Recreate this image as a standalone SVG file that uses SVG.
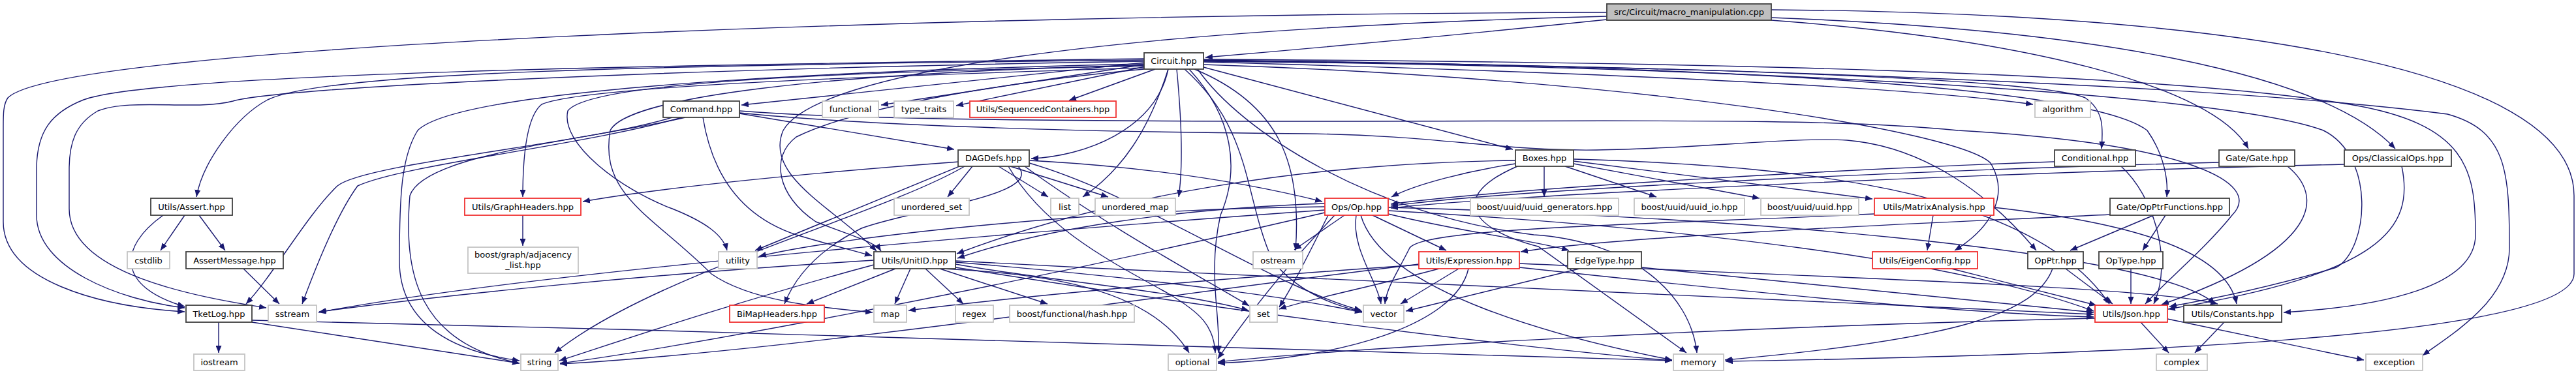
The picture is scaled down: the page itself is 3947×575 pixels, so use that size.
<svg xmlns="http://www.w3.org/2000/svg" width="3947" height="575" viewBox="0 0 3947 575">
<style>
.n rect{fill:#fff;stroke:#404040;stroke-width:1.8}
.n.r rect{stroke:#f03030}
.n.g rect{stroke:#c4c4c4}
.n.m rect{fill:#bfbfbf}
.n text{font-family:"DejaVu Sans","Liberation Sans",sans-serif;font-size:13px;text-anchor:middle;fill:#000}
#edges path{fill:none;stroke:#191970;stroke-width:1.4;marker-end:url(#a)}
</style>
<defs>
<marker id="a" markerUnits="userSpaceOnUse" markerWidth="12" markerHeight="9" refX="11" refY="4.5" orient="auto"><path d="M0,0 L11,4.5 L0,9 z" fill="#191970"/></marker>
</defs>
<g id="edges">
<path d="M2462,30 C2250,52 2000,75 1847,88"/>
<path d="M2462,19 C1400,22 90,70 12,150 C5,160 5,175 5,195 L5,340 C5,430 150,470 283,478"/>
<path d="M2462,25 C1700,45 1250,110 1200,200 C1170,270 1280,320 1343,385"/>
<path d="M2714,15 C3400,20 3944,100 3944,300 L3944,420 C3944,520 3200,545 2644,554"/>
<path d="M2714,27 C3200,45 3560,110 3670,228"/>
<path d="M2714,31 C3100,60 3390,130 3445,228"/>
<path d="M1753,96 L1136,161"/>
<path d="M1753,99 L1350,161"/>
<path d="M1755,102 L1465,162"/>
<path d="M1770,106 L1638,154"/>
<path d="M1790,106 C1770,200 1660,240 1580,243"/>
<path d="M1844,103 L2318,229"/>
<path d="M1844,95 C2400,110 2900,130 3115,160"/>
<path d="M1844,93 C2500,100 3120,118 3195,150 C3225,170 3222,200 3220,228"/>
<path d="M1753,92 C1000,100 500,110 410,153 C360,180 310,250 301,302"/>
<path d="M1753,90 C1200,98 250,108 128,153 C80,172 56,200 56,260 L56,330 C56,410 180,460 283,472"/>
<path d="M1753,94 C1000,106 420,135 357,155 C300,170 200,150 150,170 C115,190 106,220 106,260 L106,320 C106,420 300,455 408,472"/>
<path d="M1753,104 C1400,115 900,130 830,160 C805,180 801,250 801,302"/>
<path d="M1753,101 C1200,112 900,130 870,170 C858,220 950,290 1030,320 C1080,340 1108,360 1114,384"/>
<path d="M1753,100 C1250,112 960,150 935,200 C918,300 1000,330 1090,420 C1150,462 1260,472 1337,479"/>
<path d="M1753,98 C1200,110 700,140 640,200 C615,240 612,300 612,400 C612,500 700,540 796,553"/>
<path d="M1790,106 C1760,200 1720,260 1659,302"/>
<path d="M1803,106 C1812,200 1812,260 1806,302"/>
<path d="M1830,106 C1960,160 1995,250 1985,384"/>
<path d="M1822,106 C1890,180 1900,260 1870,330 C1850,420 1870,480 1867,541"/>
<path d="M1815,106 C1920,200 1905,300 1950,400 C1990,450 2050,470 2087,478"/>
<path d="M1844,92 C2600,100 3200,130 3290,200 C3318,240 3322,280 3320,302"/>
<path d="M1844,91 C2600,95 3300,110 3600,160 C3780,190 3793,260 3793,360 C3793,440 3650,470 3499,479"/>
<path d="M1844,93 C2600,100 3400,130 3750,175 C3840,200 3845,260 3845,380 C3845,460 3760,510 3712,545"/>
<path d="M1844,94 C2600,100 3400,140 3560,200 C3640,240 3630,380 3580,410 C3480,440 3380,460 3324,470"/>
<path d="M1844,99 C2500,120 3000,200 3050,250 C3080,300 3050,350 2995,384"/>
<path d="M1835,106 C1900,200 2100,330 2350,360 C2500,370 2590,450 2600,541"/>
<path d="M1753,106 C1500,130 1300,170 1220,210 C1180,240 1190,300 1250,340 C1300,360 1340,370 1350,385"/>
<path d="M1133,174 L1462,229"/>
<path d="M1030,180 C900,220 560,250 517,285 C470,330 420,420 377,466"/>
<path d="M1045,180 C900,222 620,252 548,285 C515,330 480,420 463,466"/>
<path d="M1050,180 C900,215 650,235 628,300 C618,420 640,525 796,557"/>
<path d="M1077,180 C1090,260 1130,330 1220,360 C1270,375 1310,385 1336,392"/>
<path d="M1133,170 C1250,180 1500,186 2000,186 C2500,186 2800,180 3000,200 C3350,220 3470,280 3420,330 C3380,380 3320,430 3287,466"/>
<path d="M1133,173 C1300,190 1600,202 2000,205 C2200,207 2300,232 2446,230 C2600,228 2750,210 2830,215 C2950,225 3050,300 3120,384"/>
<path d="M1470,248 C1200,268 1000,290 893,309"/>
<path d="M1490,255 L1452,302"/>
<path d="M1530,255 L1606,302"/>
<path d="M1548,255 L1698,302"/>
<path d="M1475,253 L1157,384"/>
<path d="M1478,255 C1350,330 1000,420 850,541"/>
<path d="M1577,246 C1800,258 1950,290 2026,309"/>
<path d="M1560,255 C1600,300 1400,320 1320,350 C1260,380 1220,420 1202,466"/>
<path d="M1577,250 C1750,300 1950,440 2086,476"/>
<path d="M1570,255 C1700,350 1850,430 1914,469"/>
<path d="M1545,255 C1600,350 1700,400 1790,450 C1840,480 1860,500 1862,541"/>
<path d="M2366,255 L2366,302"/>
<path d="M2398,255 L2538,302"/>
<path d="M2411,251 L2696,304"/>
<path d="M2411,247 L2869,305"/>
<path d="M2322,251 C2250,262 2170,282 2132,302"/>
<path d="M2322,246 C2000,250 1700,300 1466,389"/>
<path d="M2411,244 C2800,255 3120,300 3232,466"/>
<path d="M2325,255 C2220,300 2250,350 2357,378 L2584,541"/>
<path d="M2060,330 L1983,383"/>
<path d="M2078,330 C2070,380 2110,430 2116,466"/>
<path d="M2103,330 L2216,384"/>
<path d="M2127,328 C2250,358 2350,368 2404,384"/>
<path d="M2127,323 C2600,350 3000,400 3208,477"/>
<path d="M2127,318 C2600,330 3300,380 3394,466"/>
<path d="M2030,317 C1700,320 1300,360 1163,393"/>
<path d="M2030,312 C1800,320 1600,350 1467,396"/>
<path d="M2030,322 C1500,360 800,420 488,479"/>
<path d="M2030,326 C1500,450 1000,540 858,557"/>
<path d="M2045,330 C1960,420 1900,500 1866,550"/>
<path d="M2085,330 C2120,450 2400,520 2562,552"/>
<path d="M2035,330 C2000,400 1980,440 1960,471"/>
<path d="M1372,412 L1236,466"/>
<path d="M1395,412 L1371,466"/>
<path d="M1418,412 L1476,466"/>
<path d="M1440,412 L1605,466"/>
<path d="M1464,405 C1600,430 1800,445 1913,476"/>
<path d="M1445,412 C1600,420 1760,440 1822,541"/>
<path d="M1339,406 C1100,470 900,540 857,553"/>
<path d="M1339,399 C1000,420 700,450 489,478"/>
<path d="M1464,400 C2200,440 3000,470 3208,482"/>
<path d="M1464,410 C1900,480 2300,530 2562,553"/>
<path d="M1464,402 C1800,430 2000,460 2087,479"/>
<path d="M2235,412 L2146,466"/>
<path d="M2250,412 C2230,500 2050,550 1866,557"/>
<path d="M2174,405 C1800,450 1200,540 858,558"/>
<path d="M2174,406 C1900,425 1600,450 1392,476"/>
<path d="M2328,410 C2700,450 3000,480 3208,486"/>
<path d="M2205,412 C2100,440 2000,460 1960,474"/>
<path d="M2328,404 C2800,425 3300,440 3398,466"/>
<path d="M2420,412 L2154,477"/>
<path d="M2515,410 C2900,450 3100,470 3208,479"/>
<path d="M2962,330 L2953,384"/>
<path d="M3055,318 C3250,340 3410,380 3427,466"/>
<path d="M2872,328 C2500,345 2180,350 2160,380 C2140,420 2125,440 2122,466"/>
<path d="M2990,412 L3212,468"/>
<path d="M3300,330 L3172,384"/>
<path d="M3318,330 L3283,384"/>
<path d="M3233,329 C3000,340 2500,360 2330,386"/>
<path d="M3165,412 L3237,466"/>
<path d="M3145,412 C3120,480 3000,520 2643,552"/>
<path d="M3265,412 L3265,466"/>
<path d="M3148,248 C2800,260 2300,290 2131,313"/>
<path d="M3250,255 C3300,300 3330,400 3300,466"/>
<path d="M3400,249 C2900,262 2300,292 2131,316"/>
<path d="M3505,255 C3560,300 3560,380 3312,467"/>
<path d="M3592,252 C3000,266 2300,300 2131,319"/>
<path d="M3680,255 C3700,350 3650,420 3322,474"/>
<path d="M3280,494 L3323,541"/>
<path d="M3321,489 L3622,552"/>
<path d="M3210,488 C2700,500 2100,530 1866,555"/>
<path d="M3408,494 L3363,541"/>
<path d="M283,330 L246,384"/>
<path d="M305,330 L345,384"/>
<path d="M250,330 C180,380 180,440 283,470"/>
<path d="M373,412 L428,466"/>
<path d="M801,330 L801,377"/>
<path d="M335,494 L335,541"/>
<path d="M386,494 L796,557"/>
<path d="M386,491 C1200,510 2200,540 2562,553"/>
</g>
<g id="main" class="n m"><rect x="2462" y="6" width="252" height="25"/><text x="2588" y="23">src/Circuit/macro_manipulation.cpp</text></g>
<g id="circuit" class="n"><rect x="1753" y="81" width="91" height="25"/><text x="1798.5" y="98">Circuit.hpp</text></g>
<g id="command" class="n"><rect x="1016" y="155" width="117" height="25"/><text x="1074.5" y="172">Command.hpp</text></g>
<g id="functional" class="n g"><rect x="1260" y="155" width="86" height="25"/><text x="1303" y="172">functional</text></g>
<g id="type_traits" class="n g"><rect x="1370" y="155" width="91" height="25"/><text x="1415.5" y="172">type_traits</text></g>
<g id="seqcont" class="n r"><rect x="1486" y="155" width="224" height="25"/><text x="1598" y="172">Utils/SequencedContainers.hpp</text></g>
<g id="algorithm" class="n g"><rect x="3118" y="155" width="85" height="25"/><text x="3160.5" y="172">algorithm</text></g>
<g id="dagdefs" class="n"><rect x="1468" y="230" width="109" height="25"/><text x="1522.5" y="247">DAGDefs.hpp</text></g>
<g id="boxes" class="n"><rect x="2322" y="230" width="89" height="25"/><text x="2366.5" y="247">Boxes.hpp</text></g>
<g id="conditional" class="n"><rect x="3148" y="230" width="124" height="25"/><text x="3210" y="247">Conditional.hpp</text></g>
<g id="gate" class="n"><rect x="3400" y="230" width="116" height="25"/><text x="3458" y="247">Gate/Gate.hpp</text></g>
<g id="classicalops" class="n"><rect x="3592" y="230" width="164" height="25"/><text x="3674" y="247">Ops/ClassicalOps.hpp</text></g>
<g id="assert" class="n"><rect x="231" y="304" width="125" height="26"/><text x="293.5" y="321.5">Utils/Assert.hpp</text></g>
<g id="graphheaders" class="n r"><rect x="712" y="304" width="178" height="26"/><text x="801" y="321.5">Utils/GraphHeaders.hpp</text></g>
<g id="unordered_set" class="n g"><rect x="1370" y="304" width="115" height="26"/><text x="1427.5" y="321.5">unordered_set</text></g>
<g id="list" class="n g"><rect x="1610" y="304" width="43" height="26"/><text x="1631.5" y="321.5">list</text></g>
<g id="unordered_map" class="n g"><rect x="1678" y="304" width="123" height="26"/><text x="1739.5" y="321.5">unordered_map</text></g>
<g id="op" class="n r"><rect x="2030" y="304" width="97" height="26"/><text x="2078.5" y="321.5">Ops/Op.hpp</text></g>
<g id="uuid_generators" class="n g"><rect x="2253" y="304" width="227" height="26"/><text x="2366.5" y="321.5">boost/uuid/uuid_generators.hpp</text></g>
<g id="uuid_io" class="n g"><rect x="2504" y="304" width="169" height="26"/><text x="2588.5" y="321.5">boost/uuid/uuid_io.hpp</text></g>
<g id="uuid" class="n g"><rect x="2698" y="304" width="150" height="26"/><text x="2773" y="321.5">boost/uuid/uuid.hpp</text></g>
<g id="matrixanalysis" class="n r"><rect x="2872" y="304" width="183" height="26"/><text x="2963.5" y="321.5">Utils/MatrixAnalysis.hpp</text></g>
<g id="opptrfunctions" class="n"><rect x="3233" y="304" width="183" height="26"/><text x="3324.5" y="321.5">Gate/OpPtrFunctions.hpp</text></g>
<g id="cstdlib" class="n g"><rect x="195" y="386" width="65" height="26"/><text x="227.5" y="403.5">cstdlib</text></g>
<g id="assertmessage" class="n"><rect x="285" y="386" width="149" height="26"/><text x="359.5" y="403.5">AssertMessage.hpp</text></g>
<g id="adjacency_list" class="n g"><rect x="717" y="379" width="169" height="40"/><text x="801.5" y="395">boost/graph/adjacency</text><text x="801.5" y="411">_list.hpp</text></g>
<g id="utility" class="n g"><rect x="1101" y="386" width="59" height="26"/><text x="1130.5" y="403.5">utility</text></g>
<g id="unitid" class="n"><rect x="1339" y="386" width="125" height="26"/><text x="1401.5" y="403.5">Utils/UnitID.hpp</text></g>
<g id="ostream" class="n g"><rect x="1920" y="386" width="76" height="26"/><text x="1958" y="403.5">ostream</text></g>
<g id="expression" class="n r"><rect x="2174" y="386" width="154" height="26"/><text x="2251" y="403.5">Utils/Expression.hpp</text></g>
<g id="edgetype" class="n"><rect x="2402" y="386" width="113" height="26"/><text x="2458.5" y="403.5">EdgeType.hpp</text></g>
<g id="eigenconfig" class="n r"><rect x="2869" y="386" width="161" height="26"/><text x="2949.5" y="403.5">Utils/EigenConfig.hpp</text></g>
<g id="opptr" class="n"><rect x="3107" y="386" width="85" height="26"/><text x="3149.5" y="403.5">OpPtr.hpp</text></g>
<g id="optype" class="n"><rect x="3216" y="386" width="98" height="26"/><text x="3265" y="403.5">OpType.hpp</text></g>
<g id="tketlog" class="n"><rect x="285" y="468" width="101" height="26"/><text x="335.5" y="485.5">TketLog.hpp</text></g>
<g id="sstream" class="n g"><rect x="411" y="468" width="74" height="26"/><text x="448" y="485.5">sstream</text></g>
<g id="bimapheaders" class="n r"><rect x="1118" y="468" width="145" height="26"/><text x="1190.5" y="485.5">BiMapHeaders.hpp</text></g>
<g id="map" class="n g"><rect x="1339" y="468" width="50" height="26"/><text x="1364" y="485.5">map</text></g>
<g id="regex" class="n g"><rect x="1464" y="468" width="58" height="26"/><text x="1493" y="485.5">regex</text></g>
<g id="hash" class="n g"><rect x="1547" y="468" width="191" height="26"/><text x="1642.5" y="485.5">boost/functional/hash.hpp</text></g>
<g id="set" class="n g"><rect x="1915" y="468" width="42" height="26"/><text x="1936" y="485.5">set</text></g>
<g id="vector" class="n g"><rect x="2089" y="468" width="62" height="26"/><text x="2120" y="485.5">vector</text></g>
<g id="json" class="n r"><rect x="3210" y="468" width="111" height="26"/><text x="3265.5" y="485.5">Utils/Json.hpp</text></g>
<g id="constants" class="n"><rect x="3346" y="468" width="150" height="26"/><text x="3421" y="485.5">Utils/Constants.hpp</text></g>
<g id="iostream" class="n g"><rect x="297" y="543" width="78" height="25"/><text x="336" y="560">iostream</text></g>
<g id="string" class="n g"><rect x="798" y="543" width="57" height="25"/><text x="826.5" y="560">string</text></g>
<g id="optional" class="n g"><rect x="1790" y="543" width="74" height="25"/><text x="1827" y="560">optional</text></g>
<g id="memory" class="n g"><rect x="2564" y="543" width="77" height="25"/><text x="2602.5" y="560">memory</text></g>
<g id="complex" class="n g"><rect x="3304" y="543" width="78" height="25"/><text x="3343" y="560">complex</text></g>
<g id="exception" class="n g"><rect x="3625" y="543" width="87" height="25"/><text x="3668.5" y="560">exception</text></g>
</svg>
